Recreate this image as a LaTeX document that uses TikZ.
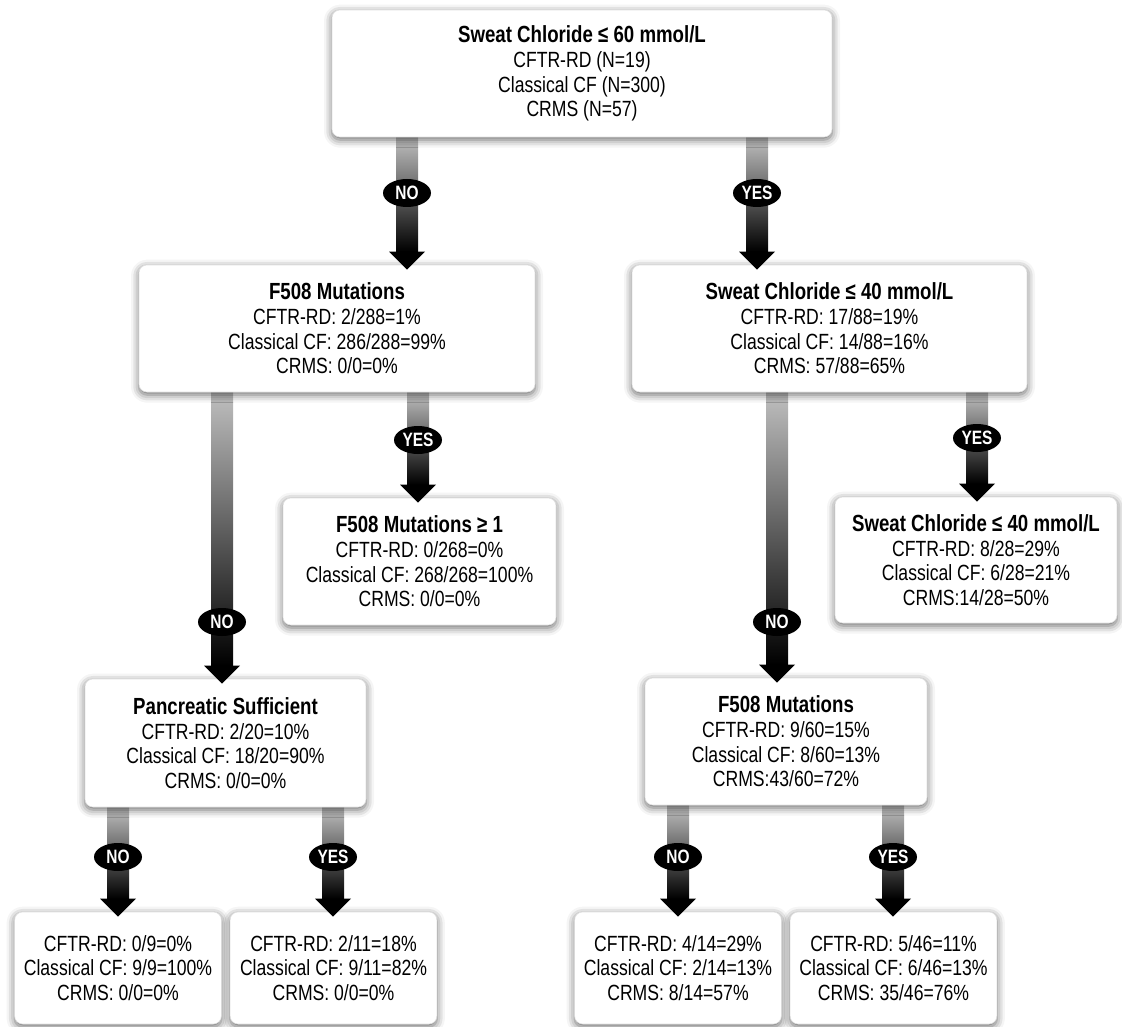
\documentclass[tikz,border=0pt]{standalone}
\usepackage{fontspec}
\setmainfont{Liberation Sans}[FakeStretch=0.8]
\usetikzlibrary{%
  shapes.geometric,% wg. ellipse
  shadows.blur,%
  calc%
}
\pgfdeclarelayer{bg}
\pgfsetlayers{bg,main}
\newcommand{\ttl}[1]{{\bfseries\fontsize{17.5}{18.5}\selectfont #1}}

\begin{document}
\begin{tikzpicture}
[x=0.75pt, y=-0.75pt, font=\fontsize{16.5}{18.5}\selectfont,
box/.style={rectangle, draw=black!12, fill=white, rounded corners=6pt, align=center, inner sep=0pt,
  blur shadow={shadow xshift=0pt, shadow yshift=-2pt, shadow blur radius=6pt, shadow opacity=60}},
leaf/.style={box, minimum width=155pt, minimum height=84pt},
ans/.style={ellipse, fill=black, text=white, inner sep=0pt, minimum width=36pt, minimum height=21pt,
  font=\bfseries\fontsize{14.5}{15}\selectfont}]

\useasboundingbox (0,0) rectangle (1122,1027);

\node[box, minimum width=375pt, minimum height=95.25pt] (top) at (582,73.5)
  {\ttl{Sweat Chloride ≤ 60 mmol/L}\\CFTR-RD (N=19)\\Classical CF (N=300)\\CRMS (N=57)};

\node[box, minimum width=297pt, minimum height=95.25pt] (f508a) at (337,328.5)
  {\ttl{F508 Mutations}\\CFTR-RD: 2/288=1\%\\Classical CF: 286/288=99\%\\CRMS: 0/0=0\%};
\node[box, minimum width=296.25pt, minimum height=95.25pt] (sc40a) at (829.5,328.5)
  {\ttl{Sweat Chloride ≤ 40 mmol/L}\\CFTR-RD: 17/88=19\%\\Classical CF: 14/88=16\%\\CRMS: 57/88=65\%};

\node[box, minimum width=204.75pt, minimum height=95.25pt] (f508b) at (419.5,561.5)
  {\ttl{F508 Mutations ≥ 1}\\CFTR-RD: 0/268=0\%\\Classical CF: 268/268=100\%\\CRMS: 0/0=0\%};
\node[box, minimum width=211.5pt, minimum height=94.5pt] (sc40b) at (976,560)
  {\ttl{Sweat Chloride ≤ 40 mmol/L}\\CFTR-RD: 8/28=29\%\\Classical CF: 6/28=21\%\\CRMS:14/28=50\%};

\node[box, minimum width=210.75pt, minimum height=96pt] (panc) at (225.5,743)
  {\ttl{Pancreatic Sufficient}\\CFTR-RD: 2/20=10\%\\Classical CF: 18/20=90\%\\CRMS: 0/0=0\%};
\node[box, minimum width=211.5pt, minimum height=95.25pt] (f508c) at (786,741.5)
  {\ttl{F508 Mutations}\\CFTR-RD: 9/60=15\%\\Classical CF: 8/60=13\%\\CRMS:43/60=72\%};

\node[leaf] (leafa) at (118,968) {CFTR-RD: 0/9=0\%\\Classical CF: 9/9=100\%\\CRMS: 0/0=0\%};
\node[leaf] (leafb) at (333.5,968) {CFTR-RD: 2/11=18\%\\Classical CF: 9/11=82\%\\CRMS: 0/0=0\%};
\node[leaf] (leafc) at (678,968) {CFTR-RD: 4/14=29\%\\Classical CF: 2/14=13\%\\CRMS: 8/14=57\%};
\node[leaf] (leafd) at (893.5,968) {CFTR-RD: 5/46=11\%\\Classical CF: 6/46=13\%\\CRMS: 35/46=76\%};

% decision arrows: from / to / x / answer / y of answer
\foreach \a/\b/\x/\t/\ly in {top/f508a/407/NO/193, top/sc40a/757/YES/193,
  f508a/panc/222/NO/622, f508a/f508b/418/YES/440,
  sc40a/f508c/777/NO/622, sc40a/sc40b/977/YES/438,
  panc/leafa/118/NO/857, panc/leafb/333/YES/857,
  f508c/leafc/678/NO/857, f508c/leafd/893/YES/857} {
  \coordinate (s) at (\x,0 |- \a.south);
  \coordinate (e) at (\x,0 |- \b.north);
  \begin{pgfonlayer}{bg}
  \shade[top color=black!25, middle color=black!75, bottom color=black]
    ([xshift=-8.25pt]s) rectangle ([xshift=8.25pt,yshift=9.75pt]e);
  \end{pgfonlayer}
  \fill[black] ([xshift=-13.5pt,yshift=9.75pt]e) -- ([xshift=13.5pt,yshift=9.75pt]e) -- ([yshift=-3.75pt]e) -- cycle;
  \node[ans] (ans-\a-\b) at (\x,\ly) {\t};
}
\end{tikzpicture}
\end{document}
